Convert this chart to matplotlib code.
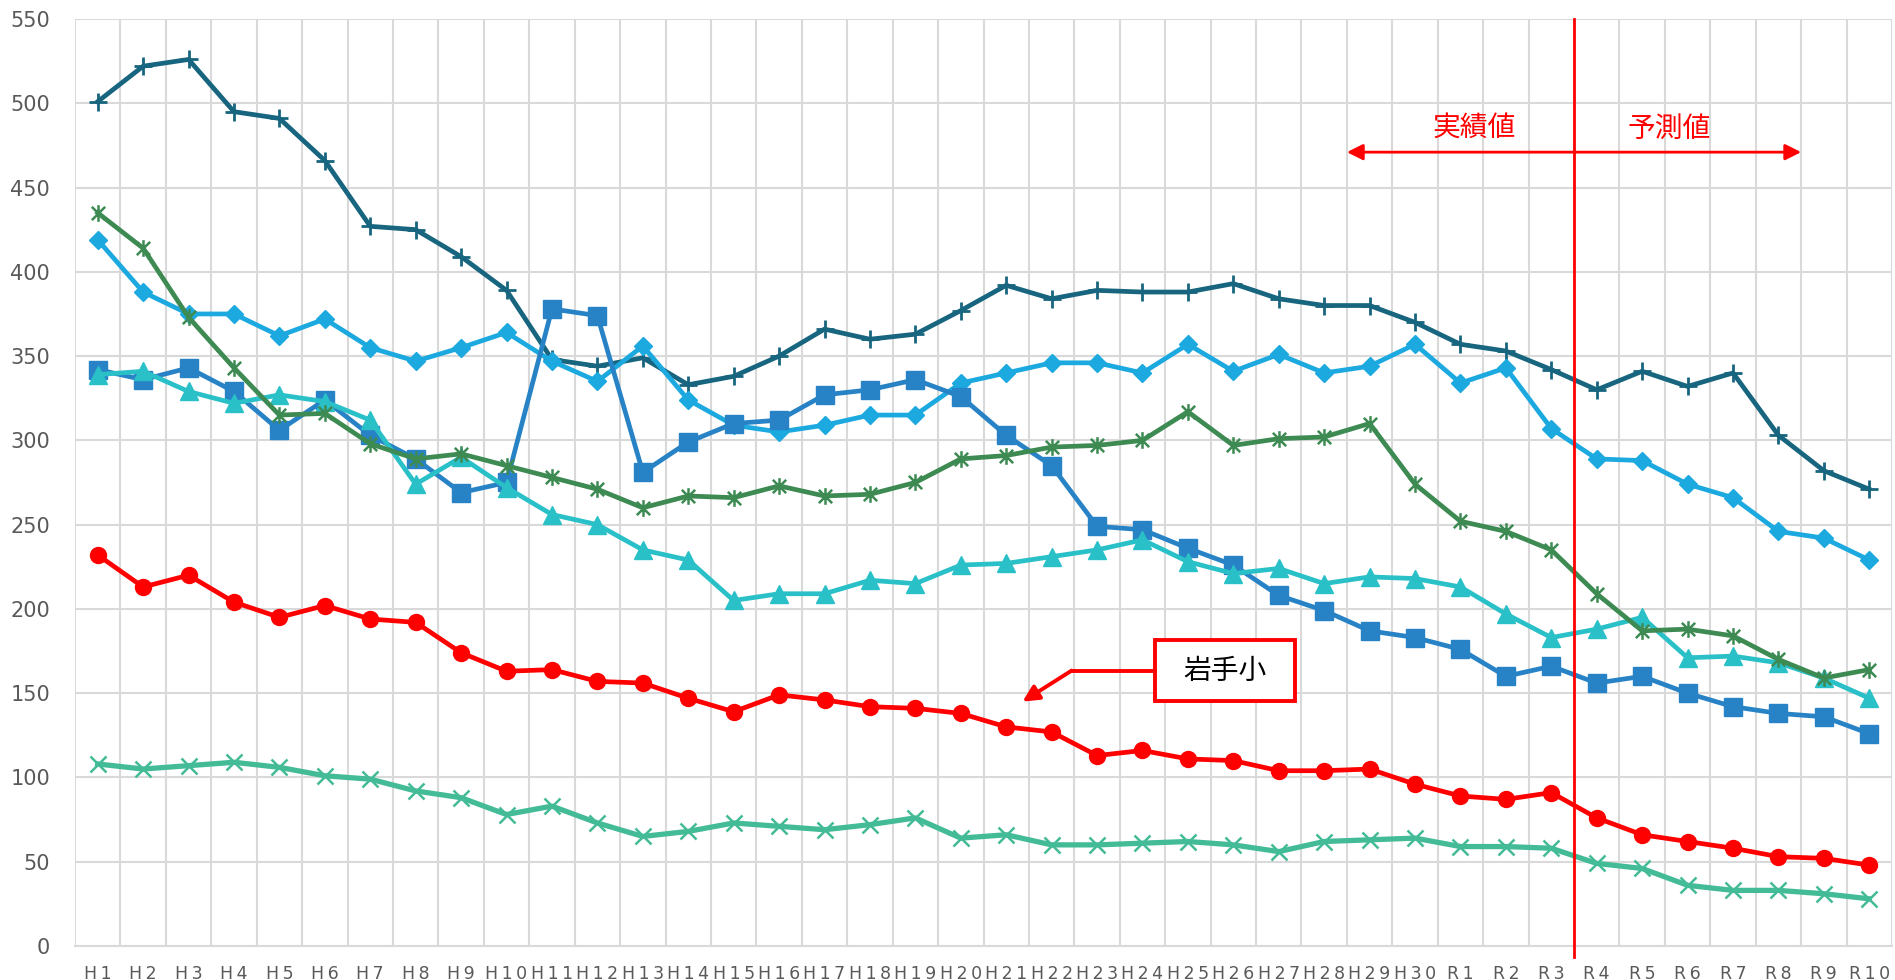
import numpy as np
import matplotlib
matplotlib.use("Agg")
import matplotlib.pyplot as plt
from matplotlib.path import Path
from matplotlib.patches import Rectangle

plt.rcParams['font.family'] = ['DejaVu Sans', 'Noto Sans CJK JP']

# categories: H1..H30, R1..R10
years = ["H%d" % i for i in range(1, 31)] + ["R%d" % i for i in range(1, 11)]

teal_plus = [501, 522, 526, 495, 491, 466, 427, 425, 409, 389,
             348, 344, 349, 333, 338, 350, 366, 360, 363, 377,
             392, 384, 389, 388, 388, 393, 384, 380, 380, 370,
             357, 353, 342, 330, 341, 332, 340, 303, 282, 271]
blue_diamond = [419, 388, 375, 375, 362, 372, 355, 347, 355, 364,
                347, 335, 356, 324, 309, 305, 309, 315, 315, 334,
                340, 346, 346, 340, 357, 341, 351, 340, 344, 357,
                334, 343, 307, 289, 288, 274, 266, 246, 242, 229]
blue_square = [342, 336, 343, 329, 306, 324, 303, 289, 269, 275,
               378, 374, 281, 299, 310, 312, 327, 330, 336, 326,
               303, 285, 249, 247, 236, 226, 208, 199, 187, 183,
               176, 160, 166, 156, 160, 150, 142, 138, 136, 126]
cyan_triangle = [339, 341, 329, 322, 327, 323, 312, 274, 290, 272,
                 256, 250, 235, 229, 205, 209, 209, 217, 215, 226,
                 227, 231, 235, 241, 228, 221, 224, 215, 219, 218,
                 213, 197, 183, 188, 195, 171, 172, 168, 159, 147]
green_star = [435, 414, 373, 343, 315, 316, 298, 289, 292, 285,
              278, 271, 260, 267, 266, 273, 267, 268, 275, 289,
              291, 296, 297, 300, 317, 297, 301, 302, 310, 274,
              252, 246, 235, 209, 187, 188, 184, 170, 159, 164]
iwate = [232, 213, 220, 204, 195, 202, 194, 192, 174, 163,
         164, 157, 156, 147, 139, 149, 146, 142, 141, 138,
         130, 127, 113, 116, 111, 110, 104, 104, 105, 96,
         89, 87, 91, 76, 66, 62, 58, 53, 52, 48]
seafoam_x = [108, 105, 107, 109, 106, 101, 99, 92, 88, 78,
             83, 73, 65, 68, 73, 71, 69, 72, 76, 64,
             66, 60, 60, 61, 62, 60, 56, 62, 63, 64,
             59, 59, 58, 49, 46, 36, 33, 33, 31, 28]

x = np.arange(len(years))

# excel style star: an X with a vertical bar
star = Path([(-1, -1), (1, 1), (-1, 1), (1, -1), (0, -1.25), (0, 1.25)],
            [Path.MOVETO, Path.LINETO, Path.MOVETO, Path.LINETO, Path.MOVETO, Path.LINETO])

fig = plt.figure(figsize=(18.95, 9.8), dpi=100)
ax = fig.add_axes([75 / 1895, 34 / 980, 1817 / 1895, 927 / 980])

lw = 3.4
ax.plot(x, teal_plus, color='#17657f', lw=lw, marker='+', ms=13, mew=2, zorder=3)
ax.plot(x, blue_diamond, color='#1ba9e0', lw=lw, marker='D', ms=9.5, zorder=4)
ax.plot(x, blue_square, color='#2783c6', lw=lw, marker='s', ms=12.5, zorder=5)
ax.plot(x, cyan_triangle, color='#29c0c8', lw=lw, marker='^', ms=12.5, zorder=6)
ax.plot(x, green_star, color='#3d8a53', lw=lw, marker=star, ms=12, mew=1.8,
        mfc='none', mec='#3d8a53', zorder=7)
ax.plot(x, iwate, color='#ff0000', lw=lw, marker='o', ms=11.5, zorder=8)
ax.plot(x, seafoam_x, color='#43bb97', lw=3.8, marker='x', ms=11, mew=1.8, zorder=9)

ax.set_xlim(-0.5, len(years) - 0.5)
ax.set_ylim(0, 550)
ax.set_yticks(np.arange(0, 551, 50))
ax.set_xticks(x)
# the original labels are letter spaced
ax.set_xticklabels(['\u2009'.join(y) for y in years])
ax.set_xticks(np.arange(-0.5, len(years), 1), minor=True)

ax.grid(False)
ax.grid(True, axis='y', which='major', color='#d9d9d9', lw=1.5, zorder=0)
ax.grid(True, axis='x', which='minor', color='#d9d9d9', lw=1.5, zorder=0)
for s in ['top', 'right', 'left']:
    ax.spines[s].set_visible(False)
ax.spines['bottom'].set_color('#d9d9d9')
ax.spines['bottom'].set_linewidth(1.5)
ax.tick_params(axis='both', which='both', length=0)
ax.tick_params(axis='y', labelsize=15, labelcolor='#595959', pad=18)
ax.tick_params(axis='x', labelsize=12.5, labelcolor='#595959', pad=14)

# actual / forecast boundary
ax.axvline(32.5, ymin=-0.012, ymax=1, color='#ff0000', lw=2, zorder=10, clip_on=False)
ax.annotate('', xy=(27.5, 471), xytext=(37.5, 471),
            arrowprops=dict(arrowstyle='<|-|>', color='#ff0000', lw=2,
                            mutation_scale=24, shrinkA=0, shrinkB=0), zorder=10)
ax.text(30.3, 485, '実績値', color='#ff0000', fontsize=20, ha='center', va='center',
        family=['Noto Sans CJK JP', 'DejaVu Sans'])
ax.text(34.6, 485, '予測値', color='#ff0000', fontsize=20, ha='center', va='center',
        family=['Noto Sans CJK JP', 'DejaVu Sans'])

# callout for the red line
ax.add_patch(Rectangle((23.27, 145.3), 3.08, 36.2, fc='white', ec='#ff0000', lw=2.8, zorder=11))
ax.text(24.81, 163.4, '岩手小', color='black', fontsize=20, ha='center', va='center',
        family=['Noto Sans CJK JP', 'DejaVu Sans'], zorder=12)
ax.plot([23.27, 21.44], [163.4, 163.4], color='#ff0000', lw=2.8, zorder=11)
ax.annotate('', xy=(20.36, 145), xytext=(21.44, 163.4),
            arrowprops=dict(arrowstyle='-|>', color='#ff0000', lw=2.8,
                            mutation_scale=24, shrinkA=0, shrinkB=0), zorder=11)

fig.savefig('out.png', dpi=100, facecolor='white')
